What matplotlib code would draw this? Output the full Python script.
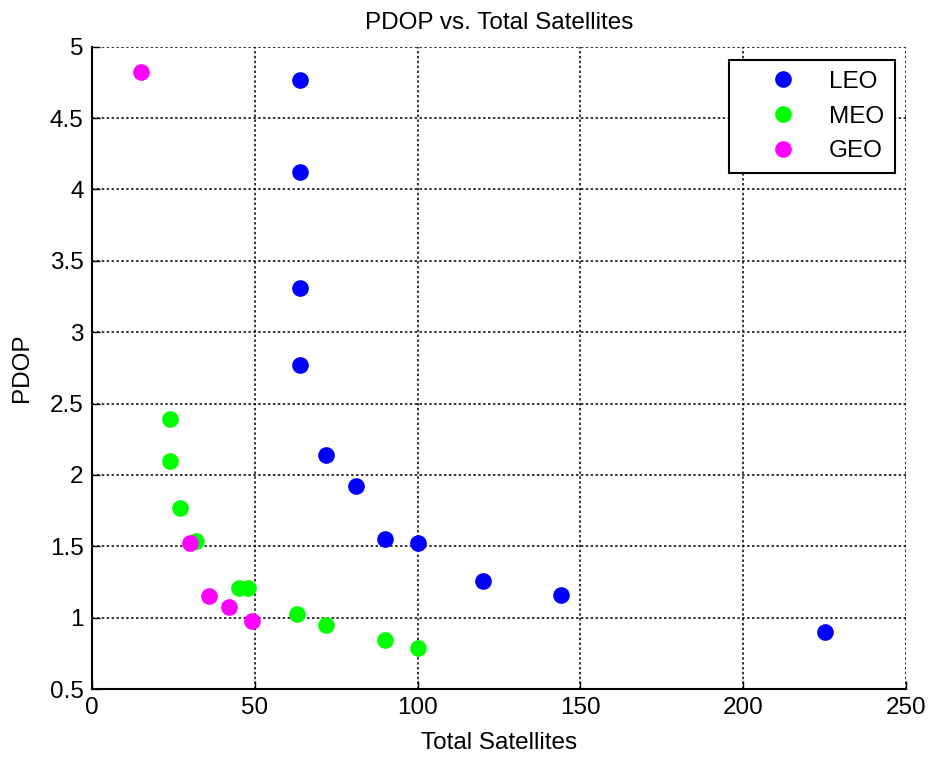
import matplotlib
matplotlib.use("Agg")
import matplotlib.pyplot as plt

plt.rcParams['font.family'] = ['Liberation Sans', 'DejaVu Sans']

leo_sats = [64, 64, 64, 64, 72, 81, 90, 100, 120, 144, 225]
leo_pdop = [4.77, 4.12, 3.31, 2.77, 2.14, 1.92, 1.55, 1.52, 1.26, 1.16, 0.90]

meo_sats = [24, 24, 27, 32, 45, 48, 63, 72, 90, 100]
meo_pdop = [2.39, 2.10, 1.77, 1.535, 1.21, 1.21, 1.025, 0.945, 0.84, 0.785]

geo_sats = [15, 30, 36, 42, 49]
geo_pdop = [4.82, 1.52, 1.155, 1.075, 0.975]

x_ticks = [0, 50, 100, 150, 200, 250]
y_ticks = [0.5, 1, 1.5, 2, 2.5, 3, 3.5, 4, 4.5, 5]
y_tick_labels = ['0.5', '1', '1.5', '2', '2.5', '3', '3.5', '4', '4.5', '5']

fig = plt.figure(figsize=(9.3, 7.58), dpi=100)
ax = fig.add_axes([92/930, 1-689/758, (906-92)/930, (689-46.7)/758])

ms = 12
ax.plot(leo_sats, leo_pdop, 'o', color='#0000ff', markersize=ms, markeredgewidth=0, label='LEO', zorder=3)
ax.plot(meo_sats, meo_pdop, 'o', color='#00ff00', markersize=ms, markeredgewidth=0, label='MEO', zorder=3)
ax.plot(geo_sats, geo_pdop, 'o', color='#ff00ff', markersize=ms, markeredgewidth=0, label='GEO', zorder=3)

ax.set_xlim(0, 250)
ax.set_ylim(0.5, 5)
ax.set_xticks(x_ticks)
ax.set_yticks(y_ticks)
ax.set_yticklabels(y_tick_labels)

fs = 17.5
ax.tick_params(direction='in', length=6, width=1, labelsize=fs, colors='black', pad=6)
ax.grid(True, color='black', linestyle=(0, (1.6, 1.6)), linewidth=1.1)
ax.set_axisbelow(True)
ax.spines['top'].set_visible(False)
ax.spines['right'].set_visible(False)
ax.spines['left'].set_linewidth(1.5)
ax.spines['bottom'].set_linewidth(1.5)

ax.set_title('PDOP vs. Total Satellites', fontsize=fs, pad=12.5)
ax.set_xlabel('Total Satellites', fontsize=fs, labelpad=9)
ax.set_ylabel('PDOP', fontsize=fs, labelpad=12)

leg = ax.legend(loc='upper right', bbox_to_anchor=((895-92)/814, (689-60)/642.3),
                fontsize=fs, borderaxespad=0, borderpad=0.45, handlelength=3.5,
                handletextpad=0.15, labelspacing=0.52, fancybox=False,
                framealpha=1, edgecolor='black', numpoints=1)
leg.get_frame().set_linewidth(1.5)

fig.savefig('out.png', dpi=100)
